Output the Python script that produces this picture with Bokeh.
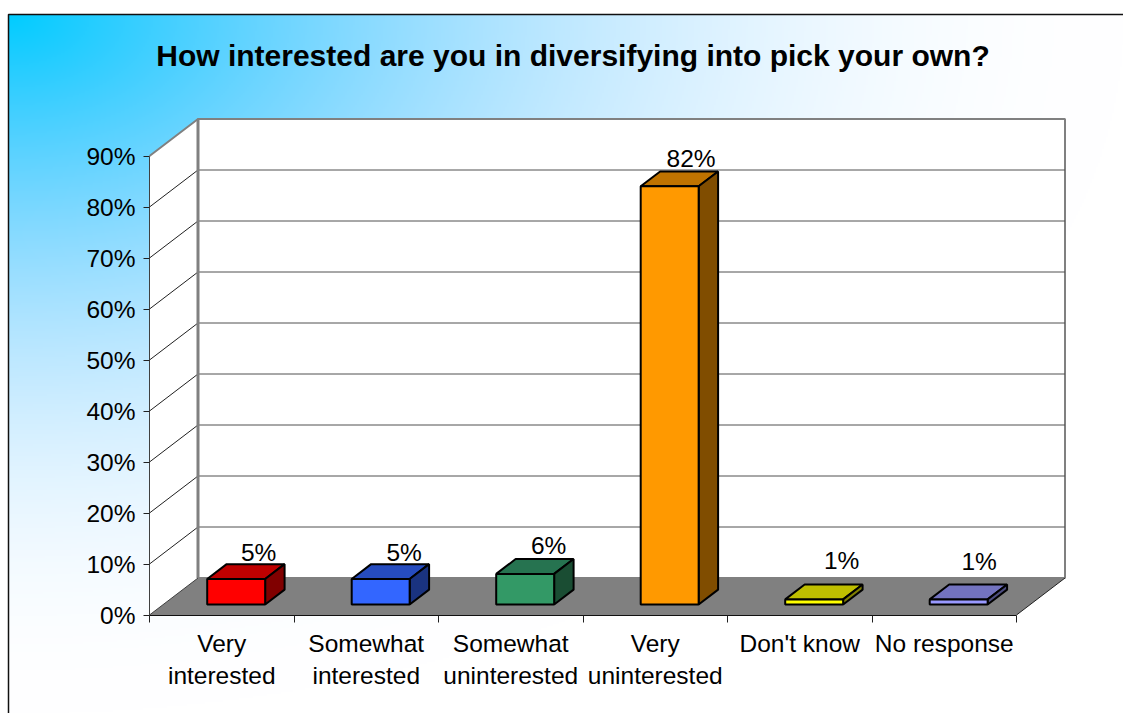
import numpy as np
from bokeh.core.properties import value
from bokeh.embed import file_html
from bokeh.models import FixedTicker, LinearAxis, Range1d
from bokeh.plotting import figure
from bokeh.resources import INLINE

W, H = 1123, 713

title = "How interested are you in diversifying into pick your own?"
categories = ["Very\ninterested", "Somewhat\ninterested", "Somewhat\nuninterested",
              "Very\nuninterested", "Don't know", "No response"]
shares = [5, 5, 6, 82, 1, 1]
share_labels = ["5%", "5%", "6%", "82%", "1%", "1%"]
face_colors = ["#FF0000", "#3366FF", "#339966", "#FF9900", "#FFFF00", "#9999FF"]
top_colors = ["#BF0000", "#264CBF", "#267350", "#BF7300", "#BFBF00", "#7373BF"]
side_colors = ["#800000", "#1A3380", "#1A4D33", "#804D00", "#808000", "#4D4D80"]
value_ticks = [0, 10, 20, 30, 40, 50, 60, 70, 80, 90]

# Pixel scale of the chart: one category and one percentage point.
CAT_PX = 144.5
PCT_PX = 5.1
ORIGIN_X, ORIGIN_Y = 149.0, 614.5

x_range = Range1d(-ORIGIN_X / CAT_PX, (W - ORIGIN_X) / CAT_PX)
y_range = Range1d(-(H - ORIGIN_Y) / PCT_PX, ORIGIN_Y / PCT_PX)

p = figure(width=W, height=H, x_range=x_range, y_range=y_range,
           output_backend="svg", toolbar_location=None, min_border=0,
           outline_line_color=None, background_fill_color="white",
           border_fill_color="white")
p.xaxis.visible = False
p.yaxis.visible = False
p.xgrid.visible = False
p.ygrid.visible = False

# Oblique depth of the box: full shift in categories and percentage points.
DEPTH_X = 48.5 / CAT_PX
DEPTH_Y = 37.0 / PCT_PX


def project(cat, pct, depth=0.0):
    return cat + depth * DEPTH_X, pct + depth * DEPTH_Y


def px_x(px):
    return (px - ORIGIN_X) / CAT_PX


def px_y(py):
    return (ORIGIN_Y - py) / PCT_PX


# Corner gradient behind the chart, from cyan to white.
FRAME_X, FRAME_Y = 8, 14
gw, gh = (W - FRAME_X) // 2, (H - FRAME_Y) // 2
yy, xx = np.mgrid[0:gh, 0:gw]
u = (xx + 0.5) / gw
v = (yy + 0.5) / gh
d = np.clip(np.sqrt(u ** 2 + v ** 2), 0, 1)
t = 1 - (1 - d) ** 2
red = (255 * t).astype(np.uint32)
green = (204 + 51 * t ** 2).astype(np.uint32)
# Packed RGBA words; rows run from the bottom up.
img = (255 << 24) | (255 << 16) | (green << 8) | red
p.image_rgba(image=[img[::-1].astype(np.uint32)], x=px_x(FRAME_X), y=px_y(H),
             dw=(W - FRAME_X) / CAT_PX, dh=(H - FRAME_Y) / PCT_PX)
p.line([px_x(FRAME_X), px_x(FRAME_X), px_x(W)], [px_y(H), px_y(FRAME_Y), px_y(FRAME_Y)],
       line_color="#101010", line_width=1.5)

n = len(categories)
top = value_ticks[-1]


def quad(points):
    xs, ys = zip(*points)
    return list(xs), list(ys)


# Walls and floor
side = quad([project(0, 0), project(0, top), project(0, top, 1), project(0, 0, 1)])
back = quad([project(0, 0, 1), project(0, top, 1), project(n, top, 1), project(n, 0, 1)])
floor = quad([project(0, 0), project(0, 0, 1), project(n, 0, 1), project(n, 0)])
p.patch(*side, fill_color="white", line_color=None)
p.patch(*back, fill_color="white", line_color="#808080", line_width=2)
p.patch(*floor, fill_color="#808080", line_color=None)

# Gridlines across the back wall and down the side wall
for tick in value_ticks[1:-1]:
    xs, ys = quad([project(0, tick), project(0, tick, 1), project(n, tick, 1)])
    p.line(xs[1:], ys[1:], line_color="#505050", line_width=1)
    p.line(xs[:2], ys[:2], line_color="#202020", line_width=1)
xs, ys = quad([project(0, top), project(0, top, 1), project(n, top, 1)])
p.line(xs, ys, line_color="#808080", line_width=2)
xs, ys = quad([project(0, 0, 1), project(0, top, 1)])
p.line(xs, ys, line_color="#808080", line_width=3)
xs, ys = quad([project(0, 0), project(0, 0, 1)])
p.line(xs, ys, line_color="#404040", line_width=1)
xs, ys = quad([project(n, 0), project(n, 0, 1)])
p.line(xs, ys, line_color="#202020", line_width=1)

# Value axis on the front left edge
yaxis = LinearAxis(fixed_location=0, bounds=(0, top), ticker=FixedTicker(ticks=value_ticks),
                   major_label_overrides={t_: f"{t_}%" for t_ in value_ticks},
                   major_label_text_font="Liberation Sans", major_label_text_font_size="24.5px",
                   major_label_text_color="black", major_tick_in=0, major_tick_out=6,
                   minor_tick_line_color=None, major_label_standoff=8,
                   axis_line_color="#404040", major_tick_line_color="#202020")
p.add_layout(yaxis, "left")

# Category axis: labels sit on centre ticks, the visible marks are at the category boundaries
centres = [i + 0.5 for i in range(n)]
xaxis = LinearAxis(fixed_location=0, bounds=(0, n),
                   ticker=FixedTicker(ticks=centres, minor_ticks=list(range(n + 1))),
                   major_label_overrides=dict(zip(centres, categories)),
                   major_label_text_font="Liberation Sans", major_label_text_font_size="24.5px",
                   major_label_text_color="black", major_label_text_line_height=1.19,
                   major_label_standoff=8,
                   major_tick_line_color=None, minor_tick_in=0, minor_tick_out=7,
                   minor_tick_line_color="#202020", axis_line_color="#101010")
p.add_layout(xaxis, "below")

# 3-D bars
BAR_LEFT, BAR_RIGHT = 0.304, 0.705
DEPTH_NEAR, DEPTH_FAR = 0.284, 0.685
# Value label placement relative to the far top corner of each bar, in pixels
label_dx = [-26, -25, -25, -27, -21, -28]
label_dy = [12, 12, 14, 13, 24, 23]
for i, share in enumerate(shares):
    x0, x1 = i + BAR_LEFT, i + BAR_RIGHT
    front = quad([project(x0, 0, DEPTH_NEAR), project(x0, share, DEPTH_NEAR),
                  project(x1, share, DEPTH_NEAR), project(x1, 0, DEPTH_NEAR)])
    lid = quad([project(x0, share, DEPTH_NEAR), project(x0, share, DEPTH_FAR),
                project(x1, share, DEPTH_FAR), project(x1, share, DEPTH_NEAR)])
    flank = quad([project(x1, 0, DEPTH_NEAR), project(x1, share, DEPTH_NEAR),
                  project(x1, share, DEPTH_FAR), project(x1, 0, DEPTH_FAR)])
    p.patch(*lid, fill_color=top_colors[i], line_color="black", line_width=2)
    p.patch(*flank, fill_color=side_colors[i], line_color="black", line_width=2)
    p.patch(*front, fill_color=face_colors[i], line_color="black", line_width=2)
    lx, ly = project(x1, share, DEPTH_FAR)
    p.text(x=[lx + label_dx[i] / CAT_PX], y=[ly + label_dy[i] / PCT_PX], text=[share_labels[i]],
           text_font=value("Liberation Sans"), text_font_size="24.5px", text_color="black",
           text_align="center", text_baseline="middle")

# Title
p.text(x=[px_x(572.5)], y=[px_y(55)], text=[title], text_font=value("Liberation Sans"),
       text_font_style="bold", text_font_size="30px", text_color="black",
       text_align="center", text_baseline="middle")

open("out.html", "w").write(file_html(p, INLINE))
